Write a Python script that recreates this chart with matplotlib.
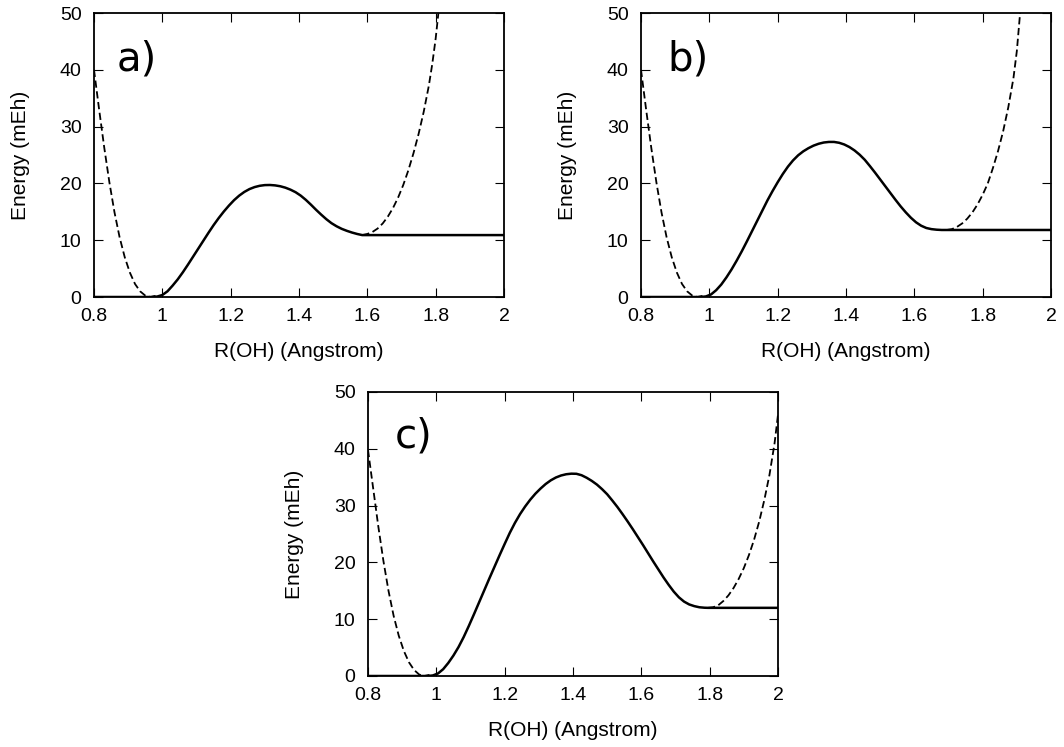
import matplotlib
matplotlib.use("Agg")
import matplotlib.pyplot as plt
from matplotlib.ticker import FuncFormatter

# panel a
a_solid_x = [0.8, 0.97, 0.985, 1.0, 1.015, 1.03, 1.045, 1.06, 1.075, 1.09, 1.105, 1.12, 1.135,
             1.15, 1.165, 1.18, 1.195, 1.21, 1.225, 1.24, 1.255, 1.27, 1.285, 1.3, 1.315,
             1.33, 1.345, 1.36, 1.375, 1.39, 1.405, 1.42, 1.435, 1.45, 1.465, 1.48, 1.495,
             1.51, 1.525, 1.54, 1.555, 1.57, 1.585, 2.0]
a_solid_y = [0, 0, 0.08, 0.35, 1.0, 2.0, 3.1, 4.35, 5.7, 7.1, 8.5, 9.9, 11.3,
             12.65, 13.9, 15.05, 16.1, 17.05, 17.85, 18.5, 19.0, 19.35, 19.58, 19.7, 19.72,
             19.65, 19.5, 19.25, 18.9, 18.45, 17.85, 17.1, 16.25, 15.35, 14.5, 13.7, 13.0,
             12.45, 12.0, 11.65, 11.35, 11.1, 10.9, 10.9]
a_left_x = [0.8, 0.815, 0.83, 0.845, 0.86, 0.875, 0.89, 0.905, 0.92, 0.935, 0.95, 0.965, 0.98]
a_left_y = [40.0, 33.0, 26.3, 20.2, 14.9, 10.5, 7.0, 4.3, 2.3, 1.0, 0.25, 0.0, 0.2]
a_right_x = [1.585, 1.6, 1.615, 1.63, 1.645, 1.66, 1.675, 1.69, 1.705, 1.72, 1.735, 1.75,
             1.765, 1.78, 1.79, 1.8, 1.808]
a_right_y = [10.9, 11.1, 11.45, 12.05, 12.95, 14.15, 15.65, 17.5, 19.7, 22.3, 25.3, 28.7,
             32.6, 37.2, 41.0, 45.5, 50.0]

# panel b
b_solid_x = [0.8, 0.975, 0.99, 1.005, 1.02, 1.035, 1.05, 1.065, 1.08, 1.095, 1.11, 1.125, 1.14,
             1.155, 1.17, 1.185, 1.2, 1.215, 1.23, 1.245, 1.26, 1.275, 1.29, 1.305, 1.32,
             1.335, 1.35, 1.365, 1.38, 1.395, 1.41, 1.425, 1.44, 1.455, 1.47, 1.485, 1.5,
             1.515, 1.53, 1.545, 1.56, 1.575, 1.59, 1.605, 1.62, 1.635, 1.65, 1.665, 1.68,
             1.695, 2.0]
b_solid_y = [0, 0, 0.1, 0.45, 1.2, 2.2, 3.45, 4.85, 6.4, 8.05, 9.8, 11.6, 13.4,
             15.2, 17.0, 18.65, 20.2, 21.65, 22.95, 24.05, 24.95, 25.65, 26.2, 26.65, 26.98,
             27.2, 27.3, 27.3, 27.15, 26.85, 26.4, 25.8, 25.05, 24.15, 23.05, 21.9, 20.7,
             19.5, 18.3, 17.1, 15.95, 14.9, 13.95, 13.15, 12.55, 12.15, 11.95, 11.85, 11.8,
             11.8, 11.8]
b_left_x = [0.8, 0.815, 0.83, 0.845, 0.86, 0.875, 0.89, 0.905, 0.92, 0.935, 0.95, 0.965, 0.98]
b_left_y = [40.0, 33.0, 26.3, 20.2, 14.9, 10.5, 7.0, 4.3, 2.3, 1.0, 0.25, 0.0, 0.2]
b_right_x = [1.695, 1.71, 1.725, 1.74, 1.755, 1.77, 1.785, 1.8, 1.815, 1.83, 1.845, 1.86,
             1.875, 1.89, 1.9, 1.91]
b_right_y = [11.8, 11.95, 12.35, 12.95, 13.8, 14.9, 16.3, 18.0, 20.0, 22.7, 25.7, 29.2,
             33.4, 38.5, 43.3, 50.3]

# panel c
c_solid_x = [0.8, 0.975, 0.99, 1.005, 1.02, 1.035, 1.05, 1.065, 1.08, 1.095, 1.11, 1.125, 1.14,
             1.155, 1.17, 1.185, 1.2, 1.215, 1.23, 1.245, 1.26, 1.275, 1.29, 1.305, 1.32,
             1.335, 1.35, 1.365, 1.38, 1.395, 1.41, 1.425, 1.44, 1.455, 1.47, 1.485, 1.5,
             1.515, 1.53, 1.545, 1.56, 1.575, 1.59, 1.605, 1.62, 1.635, 1.65, 1.665, 1.68,
             1.695, 1.71, 1.725, 1.74, 1.755, 1.77, 1.785, 1.795, 2.0]
c_solid_y = [0, 0, 0.1, 0.45, 1.2, 2.3, 3.6, 5.1, 6.85, 8.8, 10.85, 12.95, 15.05,
             17.15, 19.2, 21.25, 23.25, 25.2, 26.95, 28.5, 29.85, 31.05, 32.1, 33.0, 33.8,
             34.45, 34.95, 35.3, 35.52, 35.62, 35.6, 35.35, 34.9, 34.35, 33.7, 32.9, 32.0,
             30.9, 29.75, 28.5, 27.2, 25.85, 24.45, 23.05, 21.6, 20.15, 18.75, 17.35, 16.05,
             14.85, 13.85, 13.1, 12.6, 12.3, 12.1, 12.02, 12.0, 12.0]
c_left_x = [0.8, 0.815, 0.83, 0.845, 0.86, 0.875, 0.89, 0.905, 0.92, 0.935, 0.95, 0.965, 0.98]
c_left_y = [39.8, 33.1, 26.4, 20.3, 15.0, 10.6, 7.1, 4.4, 2.4, 1.05, 0.25, 0.0, 0.2]
c_right_x = [1.795, 1.81, 1.825, 1.84, 1.855, 1.87, 1.885, 1.9, 1.915, 1.93, 1.945, 1.96,
             1.975, 1.99, 2.0]
c_right_y = [12.0, 12.1, 12.45, 13.2, 14.2, 15.5, 17.1, 19.0, 21.3, 24.0, 27.2, 31.0,
             35.4, 41.0, 46.0]

panel_labels = ["a)", "b)", "c)"]
x_ticks = [0.8, 1.0, 1.2, 1.4, 1.6, 1.8, 2.0]
y_ticks = [0, 10, 20, 30, 40, 50]

W, H = 1064, 747
fig = plt.figure(figsize=(W / 100, H / 100), dpi=100)

# axes boxes in pixels: left, top, right, bottom
boxes = [(94, 13, 504, 297), (641, 13, 1051, 297), (368, 392, 778, 676)]
label_pos = [(0.054, 0.796), (0.064, 0.796), (0.066, 0.803)]
panels = [
    (a_solid_x, a_solid_y, a_left_x, a_left_y, a_right_x, a_right_y),
    (b_solid_x, b_solid_y, b_left_x, b_left_y, b_right_x, b_right_y),
    (c_solid_x, c_solid_y, c_left_x, c_left_y, c_right_x, c_right_y),
]

txt_font = "Liberation Sans"

for (l, t, r, b), data, lab, (lx, ly) in zip(boxes, panels, panel_labels, label_pos):
    ax = fig.add_axes([l / W, 1 - b / H, (r - l) / W, (b - t) / H])
    sx, sy, lxs, lys, rxs, rys = data
    ax.plot(lxs, lys, color="black", lw=1.3, ls=(0, (4, 2)), zorder=2)
    ax.plot(rxs, rys, color="black", lw=1.3, ls=(0, (4, 2)), zorder=2)
    ax.plot(sx, sy, color="black", lw=1.8, zorder=3, solid_joinstyle="round")
    ax.set_xlim(0.8, 2.0)
    ax.set_ylim(0, 50)
    ax.set_xticks(x_ticks)
    ax.set_yticks(y_ticks)
    ax.xaxis.set_major_formatter(FuncFormatter(lambda v, p: "%g" % v))
    ax.tick_params(direction="in", length=6.5, width=0.8, top=True, right=True,
                   labelsize=14)
    ax.tick_params(axis="x", pad=8)
    ax.tick_params(axis="y", pad=9)
    for tl in ax.get_xticklabels() + ax.get_yticklabels():
        tl.set_fontfamily(txt_font)
    for s in ax.spines.values():
        s.set_linewidth(1.3)
    ax.set_xlabel("R(OH) (Angstrom)", fontsize=15, fontfamily=txt_font, va="baseline")
    ax.xaxis.set_label_coords(0.5, -0.211)
    ax.set_ylabel("Energy (mEh)", fontsize=15, fontfamily=txt_font, va="center")
    ax.yaxis.set_label_coords(-0.18, 0.5)
    ax.text(lx, ly, lab, transform=ax.transAxes, fontsize=29, ha="left", va="baseline",
            fontfamily="DejaVu Sans")

fig.savefig("out.png", dpi=100)
